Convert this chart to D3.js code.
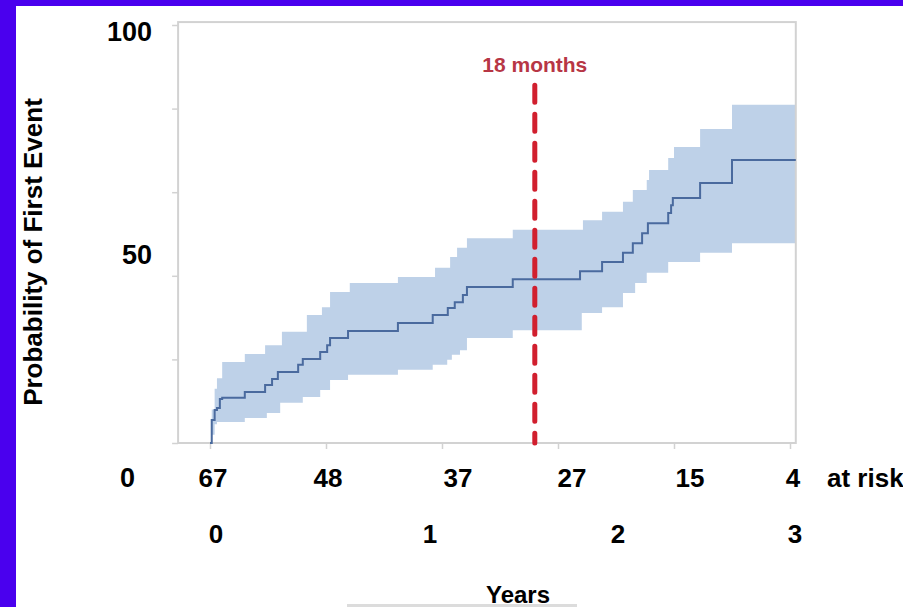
<!DOCTYPE html>
<html>
<head>
<meta charset="utf-8">
<script src="https://cdn.jsdelivr.net/npm/d3@7/dist/d3.min.js"></script>
<style>
  html, body { margin: 0; padding: 0; background: #ffffff; }
  svg { display: block; }
  text { font-family: "Liberation Sans", Arial, sans-serif; font-weight: bold; }
</style>
</head>
<body>
<svg id="chart" width="903" height="607"></svg>
<script>
// ---------------- DATA ----------------
// Kaplan-Meier style cumulative probability (%) vs time (days); step after each time
const curveDays   = [0, 3, 8, 12, 17, 21, 60, 95, 107, 117, 152, 160, 190, 202, 207, 238, 324, 384, 410, 422, 436, 443, 522, 638, 676, 712, 729, 745, 755, 790, 795, 798, 845, 900];
const curveValues = [0, 5.5, 7.9, 8.4, 10.5, 10.8, 12.2, 13.9, 15.3, 17.0, 18.7, 20.1, 21.8, 23.4, 25.1, 26.8, 28.7, 30.6, 32.3, 33.7, 35.4, 37.3, 39.2, 41.1, 43.3, 45.5, 47.8, 50.2, 52.6, 55.0, 56.9, 58.6, 62.2, 67.7];

const upperDays   = [0, 3, 8, 12, 21, 60, 95, 124, 167, 193, 207, 241, 324, 388, 414, 426, 443, 522, 643, 676, 712, 729, 753, 757, 790, 800, 845, 900];
const upperValues = [0, 8, 13, 15.5, 19.4, 21.3, 23.4, 26.6, 30.6, 32.5, 36.1, 38.3, 39.7, 41.9, 44.5, 46.7, 49.0, 51.0, 53.3, 55.3, 57.7, 60.5, 62.9, 65.3, 68.2, 70.8, 75.1, 80.9];

const lowerDays   = [0, 3, 8, 12, 60, 98, 121, 160, 190, 207, 238, 324, 384, 409, 417, 431, 443, 522, 641, 676, 712, 733, 753, 790, 845, 900];
const lowerValues = [0, 2, 4.5, 5.0, 6.0, 7.2, 9.6, 11.0, 12.7, 15.1, 16.3, 17.5, 18.7, 19.9, 21.1, 22.2, 25.1, 27.0, 31.1, 32.5, 35.9, 38.3, 40.7, 43.3, 45.5, 47.8];

const followUpEnd = 1010;            // last follow-up time (days)
const xTickDays   = [0, 200, 400, 600, 800, 1000];
const yTickValues = [0, 20, 40, 60, 80, 100];

const atRiskCounts   = [67, 48, 37, 27, 15, 4];
const yearLabels     = ["0", "1", "2", "3"];
const yAxisLabels    = [100, 50, 0];

const markerDay   = 560;             // "18 months" reference line
const markerTop   = 85.6;            // top of reference line (value units)
const markerLabel = "18 months";

// ---------------- LAYOUT ----------------
const W = 903, H = 607;
const svg = d3.select("#chart");

const x = d3.scaleLinear().domain([0, 1000]).range([210, 790]);
const y = d3.scaleLinear().domain([0, 100]).range([443, 25]);
const frameX = [-55, 1010];
const frameY = [0, 100.7];

// overlaid slide labels
const yLabelScale = d3.scaleLinear().domain([0, 100]).range([487, 41]);
const yLabelRight = [152, 152, 135];
const atRiskDx   = [3, 2, 16, 14, 16, 3];
const yearX      = [216, 430, 618, 795];

// background + purple slide border
svg.append("rect").attr("x", 0).attr("y", 0).attr("width", W).attr("height", H).attr("fill", "#ffffff");
svg.append("rect").attr("x", 0).attr("y", 0).attr("width", W).attr("height", 6).attr("fill", "#4a00ee");
svg.append("rect").attr("x", 0).attr("y", 0).attr("width", 16).attr("height", H).attr("fill", "#4a00ee");

// step helper (value of step function at time t)
function stepAt(days, vals, t) {
  let v = vals[0];
  for (let i = 0; i < days.length; i++) { if (days[i] <= t) v = vals[i]; }
  return v;
}

// confidence band
const bandTimes = Array.from(new Set([...upperDays, ...lowerDays, followUpEnd])).sort((a, b) => a - b);
const bandData = bandTimes.map(t => ({ t, lo: stepAt(lowerDays, lowerValues, t), hi: stepAt(upperDays, upperValues, t) }));
svg.append("path")
  .datum(bandData)
  .attr("fill", "#bed1e8")
  .attr("d", d3.area().curve(d3.curveStepAfter)
    .x(d => x(d.t)).y0(d => y(d.lo)).y1(d => y(d.hi)));

// frame
const fx0 = x(frameX[0]), fx1 = x(frameX[1]), fy0 = y(frameY[1]), fy1 = y(frameY[0]);
svg.append("rect")
  .attr("x", fx0).attr("y", fy0).attr("width", fx1 - fx0).attr("height", fy1 - fy0)
  .attr("fill", "none").attr("stroke", "#d2d2d2").attr("stroke-width", 2);

// axes ticks
const xAxis = svg.append("g").attr("transform", `translate(0,${fy1})`)
  .call(d3.axisBottom(x).tickValues(xTickDays).tickSize(6).tickFormat(""));
const yAxis = svg.append("g").attr("transform", `translate(${fx0},0)`)
  .call(d3.axisLeft(y).tickValues(yTickValues).tickSize(6).tickFormat(""));
[xAxis, yAxis].forEach(g => {
  g.select(".domain").remove();
  g.selectAll("line").attr("stroke", "#d2d2d2").attr("stroke-width", 1.5);
});

// KM curve
const curveData = curveDays.map((t, i) => ({ t, v: curveValues[i] }));
curveData.push({ t: followUpEnd, v: curveValues[curveValues.length - 1] });
svg.append("path")
  .datum(curveData)
  .attr("fill", "none")
  .attr("stroke", "#4a6a9e")
  .attr("stroke-width", 2)
  .attr("d", d3.line().curve(d3.curveStepAfter).x(d => x(d.t)).y(d => y(d.v)));

// 18 months dashed line
svg.append("line")
  .attr("x1", x(markerDay)).attr("x2", x(markerDay))
  .attr("y1", y(markerTop)).attr("y2", y(0))
  .attr("stroke", "#d11f2e").attr("stroke-width", 5)
  .attr("stroke-dasharray", "17 12").attr("stroke-linecap", "round");
svg.append("text")
  .attr("x", x(markerDay)).attr("y", 72)
  .attr("text-anchor", "middle")
  .attr("font-size", 21).attr("fill", "#b73645")
  .text(markerLabel);

// y axis labels (slide overlay)
svg.selectAll(".ylab").data(yAxisLabels).enter().append("text")
  .attr("class", "ylab")
  .attr("x", (d, i) => yLabelRight[i]).attr("y", d => yLabelScale(d))
  .attr("text-anchor", "end").attr("font-size", 27).attr("fill", "#000")
  .text(d => d);

// y axis title
svg.append("text")
  .attr("transform", "translate(42,252) rotate(-90)")
  .attr("text-anchor", "middle").attr("font-size", 26).attr("fill", "#000")
  .text("Probability of First Event");

// at-risk row
svg.selectAll(".risk").data(atRiskCounts).enter().append("text")
  .attr("class", "risk")
  .attr("x", (d, i) => x(xTickDays[i]) + atRiskDx[i]).attr("y", 487)
  .attr("text-anchor", "middle").attr("font-size", 26).attr("fill", "#000")
  .text(d => d);
svg.append("text")
  .attr("x", 827).attr("y", 487)
  .attr("font-size", 26).attr("fill", "#000")
  .text("at risk");

// year labels
svg.selectAll(".year").data(yearLabels).enter().append("text")
  .attr("class", "year")
  .attr("x", (d, i) => yearX[i]).attr("y", 543)
  .attr("text-anchor", "middle").attr("font-size", 26).attr("fill", "#000")
  .text(d => d);

// x title
svg.append("rect")
  .attr("x", 347).attr("y", 604).attr("width", 230).attr("height", 3)
  .attr("fill", "#dcdcdc");
svg.append("text")
  .attr("x", 518).attr("y", 603)
  .attr("text-anchor", "middle").attr("font-size", 24).attr("fill", "#000")
  .text("Years");
</script>
</body>
</html>
